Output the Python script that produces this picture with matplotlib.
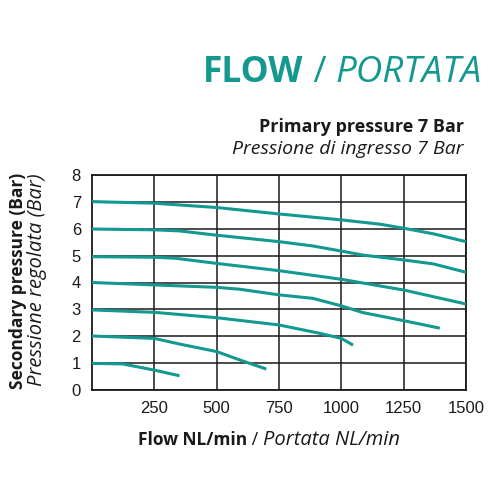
import matplotlib
matplotlib.use('Agg')
from matplotlib import pyplot as plt

TEAL = '#13998f'

# curves: flow (NL/min) vs secondary pressure (Bar)
flow_7 = [0, 250, 500, 750, 1000, 1155, 1250, 1370, 1500]
pres_7 = [7.01, 6.95, 6.79, 6.55, 6.33, 6.17, 6.02, 5.81, 5.52]
flow_6 = [0, 250, 350, 500, 750, 885, 1000, 1087, 1250, 1370, 1500]
pres_6 = [5.99, 5.96, 5.92, 5.76, 5.52, 5.36, 5.17, 5.02, 4.84, 4.69, 4.38]
flow_5 = [0, 250, 337, 500, 750, 1000, 1250, 1500]
pres_5 = [4.96, 4.94, 4.90, 4.71, 4.44, 4.12, 3.72, 3.20]
flow_4 = [0, 250, 500, 592, 750, 886, 1000, 1087, 1250, 1395]
pres_4 = [4.00, 3.91, 3.82, 3.75, 3.54, 3.41, 3.13, 2.88, 2.58, 2.30]
flow_3 = [0, 250, 500, 750, 913, 1000, 1047]
pres_3 = [2.98, 2.89, 2.69, 2.42, 2.11, 1.92, 1.67]
flow_2 = [0, 250, 351, 500, 592, 699]
pres_2 = [2.01, 1.92, 1.71, 1.43, 1.12, 0.78]
flow_1 = [0, 123, 250, 351]
pres_1 = [0.99, 0.97, 0.74, 0.53]

curves = [(flow_7, pres_7), (flow_6, pres_6), (flow_5, pres_5), (flow_4, pres_4),
          (flow_3, pres_3), (flow_2, pres_2), (flow_1, pres_1)]

x_ticks = [250, 500, 750, 1000, 1250, 1500]
y_ticks = [0, 1, 2, 3, 4, 5, 6, 7, 8]

plt.rcParams['font.family'] = ['Open Sans', 'DejaVu Sans']

fig = plt.figure(figsize=(5, 5), dpi=100)
ax = fig.add_axes([0.184, 0.22, 0.748, 0.43])

for fl, pr in curves:
    ax.plot(fl, pr, color=TEAL, lw=2.2, solid_capstyle='butt', zorder=3)

ax.set_xlim(0, 1500)
ax.set_ylim(0, 8)
ax.set_xticks(x_ticks)
ax.set_yticks(y_ticks)
ax.grid(True, color='#1a1a1a', lw=1.1)
for s in ax.spines.values():
    s.set_color('#1a1a1a')
    s.set_linewidth(1.3)
ax.tick_params(length=0, pad=8, labelsize=12, colors='#1a1a1a')
for lab in ax.get_xticklabels() + ax.get_yticklabels():
    lab.set_family('Liberation Sans')

fig.canvas.draw()
renderer = fig.canvas.get_renderer()
inv = fig.transFigure.inverted()


def run(parts, x, y, color):
    # lay text pieces one after another from x
    pos = x
    for txt, weight, style, size in parts:
        t = fig.text(pos, y, txt, fontsize=size, color=color, weight=weight,
                     style=style, ha='left', va='center')
        bb = t.get_window_extent(renderer)
        (x0, _), (x1, _) = inv.transform([[bb.x0, bb.y0], [bb.x1, bb.y1]])
        pos += x1 - x0


run([('FLOW', 'bold', 'normal', 25.5), (' / ', 'normal', 'normal', 26),
     ('PORTATA', 'normal', 'italic', 26.5)],
    0.406, 1 - 73 / 500, TEAL)
fig.text(0.928, 1 - 127 / 500, 'Primary pressure 7 Bar', fontsize=13, weight='bold',
         color='#1a1a1a', ha='right', va='center')
fig.text(0.928, 1 - 149 / 500, 'Pressione di ingresso 7 Bar', fontsize=14, style='italic',
         color='#1a1a1a', ha='right', va='center')
run([('Flow NL/min', 'bold', 'normal', 12.5), (' / ', 'normal', 'normal', 13),
     ('Portata NL/min', 'normal', 'italic', 14.5)],
    0.276, 1 - 440 / 500, '#1a1a1a')
fig.text(0.036, 1 - 281 / 500, 'Secondary pressure (Bar)', fontsize=12.5, weight='bold',
         color='#1a1a1a', ha='center', va='center', rotation=90)
fig.text(0.074, 1 - 280 / 500, 'Pressione regolata (Bar)', fontsize=14.5, style='italic',
         color='#1a1a1a', ha='center', va='center', rotation=90)

plt.savefig('out.png', dpi=100)
